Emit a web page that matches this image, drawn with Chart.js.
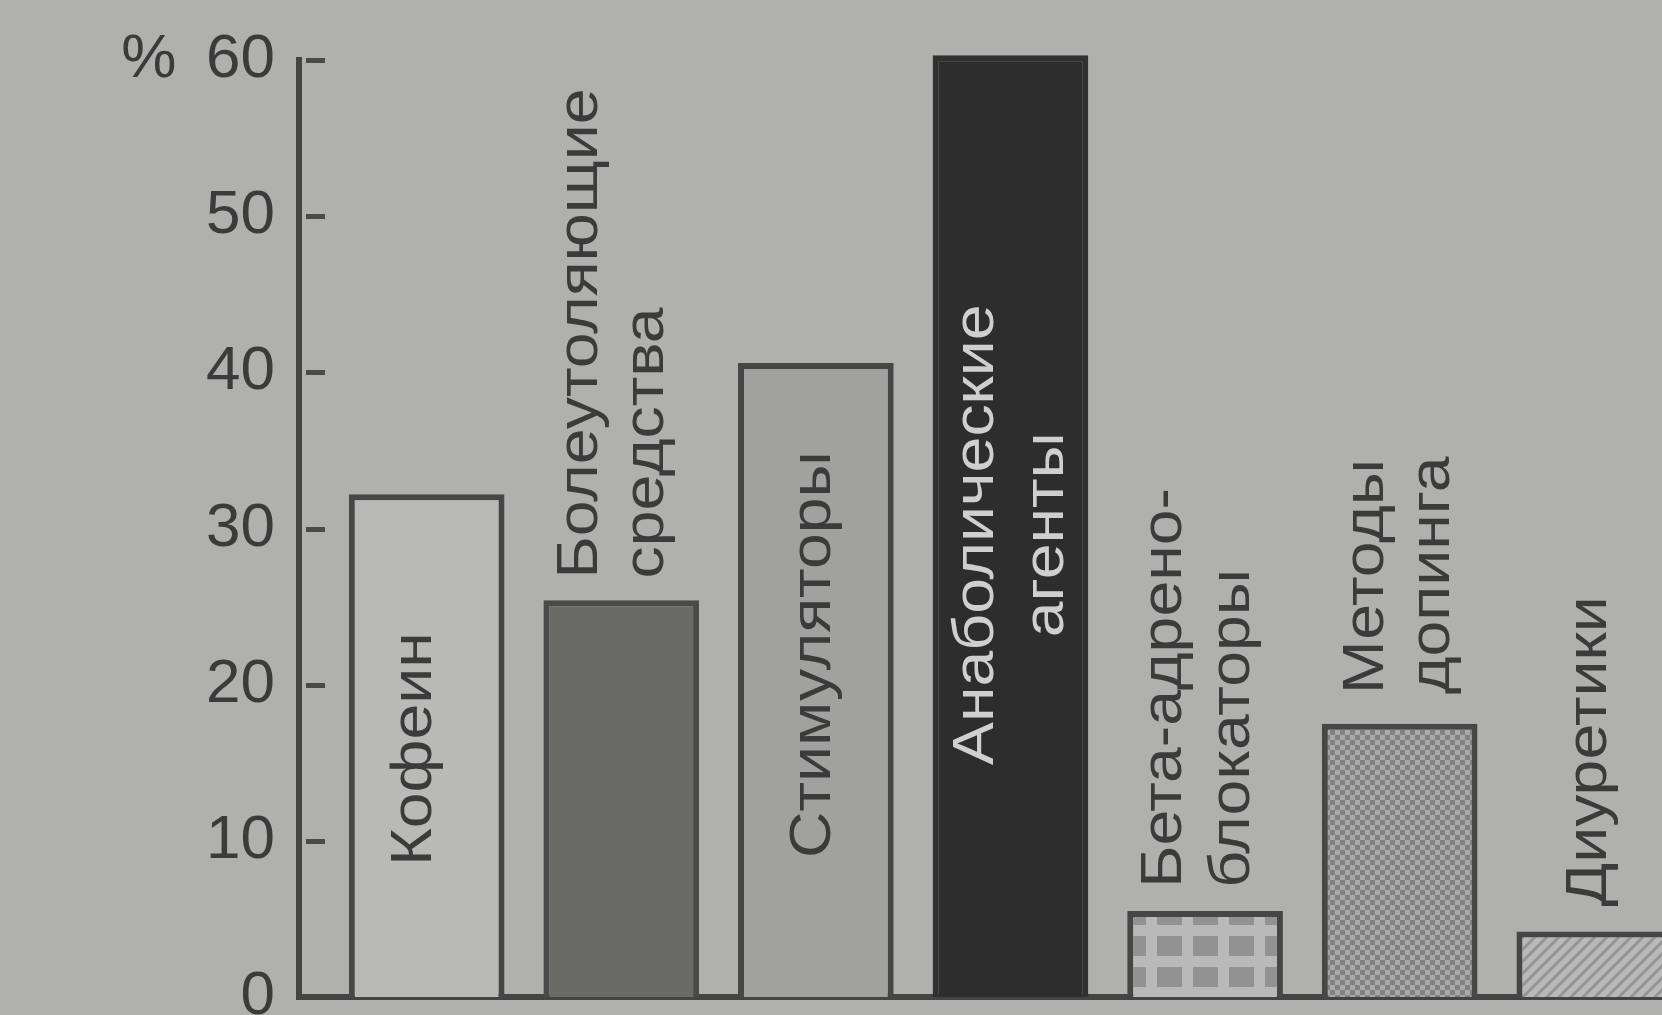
<!DOCTYPE html>
<html>
<head>
<meta charset="utf-8">
<script src="https://cdn.jsdelivr.net/npm/chart.js@4.4.1/dist/chart.umd.min.js"></script>
<style>
  html, body { margin: 0; padding: 0; overflow: hidden; background: #b0b0ae; }
  #wrap { position: relative; width: 1662px; height: 1015px; }
  canvas { display: block; }
</style>
</head>
<body>
<div id="wrap"><canvas id="c" width="1662" height="1015"></canvas></div>
<script>
// ---- data ----
const categories = ['Кофеин', 'Болеутоляющие средства', 'Стимуляторы', 'Анаболические агенты', 'Бета-адрено- блокаторы', 'Методы допинга', 'Диуретики'];
const categoryLines = [
  ['Кофеин'],
  ['Болеутоляющие', 'средства'],
  ['Стимуляторы'],
  ['Анаболические', 'агенты'],
  ['Бета-адрено-', 'блокаторы'],
  ['Методы', 'допинга'],
  ['Диуретики']
];
const values = [32.2, 25.4, 40.6, 60.3, 5.5, 17.5, 4.2];
const yTicks = [0, 10, 20, 30, 40, 50, 60];
const yUnit = '%';

// ---- styles ----
const FONT = '"Liberation Sans", Arial, sans-serif';
const ink = '#3b3b3b';
const edge = '#464646';

function makePattern(w, h, draw) {
  const t = document.createElement('canvas');
  t.width = w; t.height = h;
  const g = t.getContext('2d');
  draw(g, w, h);
  return document.getElementById('c').getContext('2d').createPattern(t, 'repeat');
}
const brick = makePattern(36, 31, (g, w, h) => {
  g.fillStyle = '#b9b9b9'; g.fillRect(0, 0, w, h);
  g.fillStyle = '#929292'; g.fillRect(5, 6, 25, 20);
});
const checker = makePattern(10, 10, (g, w, h) => {
  g.fillStyle = '#a9a9a9'; g.fillRect(0, 0, w, h);
  g.fillStyle = '#828282'; g.fillRect(0, 0, 5, 5); g.fillRect(5, 5, 5, 5);
});
const hatch = makePattern(12, 12, (g, w, h) => {
  g.fillStyle = '#b9b9b9'; g.fillRect(0, 0, w, h);
  g.strokeStyle = '#959595'; g.lineWidth = 3;
  g.beginPath();
  g.moveTo(-3, 15); g.lineTo(15, -3);
  g.moveTo(-9, 9); g.lineTo(9, -9);
  g.moveTo(3, 21); g.lineTo(21, 3);
  g.stroke();
});

const fills = ['#b9b9b7', '#6a6a66', '#a1a1a0', '#2d2d2d', brick, checker, hatch];
const borders = [edge, '#4a4a4a', edge, '#303030', edge, edge, edge];

// label layout: start (value along y where text begins), dx (px from bar centre), gap between lines, align
const labelLayout = [
  { start: 8.4, dx: -12, gap: 0, align: 'left', color: ink },
  { start: 26.8, dx: -7, gap: 66, align: 'left', color: ink },
  { start: 8.9, dx: -2, gap: 0, align: 'left', color: ink },
  { start: 29.6, dx: 2, gap: 70, align: 'center', color: '#cfcfcf' },
  { start: 7.0, dx: -6, gap: 68, align: 'left', color: ink },
  { start: 19.4, dx: 0, gap: 66, align: 'left', color: ink },
  { start: 5.8, dx: -4, gap: 0, align: 'left', color: ink }
];
const TEXT_STRETCH = 1.11;

const labelPlugin = {
  id: 'barLabels',
  afterDatasetsDraw(chart) {
    const ctx = chart.ctx, xs = chart.scales.x, ys = chart.scales.y;
    ctx.save();
    ctx.font = '58px ' + FONT;
    ctx.textBaseline = 'middle';
    categoryLines.forEach((lines, i) => {
      const L = labelLayout[i];
      const cx = xs.getPixelForValue(i) + L.dx;
      const y = ys.getPixelForValue(L.start);
      lines.forEach((line, k) => {
        const x = cx + (k - (lines.length - 1) / 2) * L.gap;
        ctx.save();
        ctx.translate(x, y);
        ctx.rotate(-Math.PI / 2);
        ctx.scale(TEXT_STRETCH, 1);
        ctx.textAlign = L.align;
        ctx.fillStyle = L.color;
        ctx.fillText(line, 0, 0);
        ctx.restore();
      });
    });
    ctx.restore();
  },
  afterDraw(chart) {
    const ctx = chart.ctx, ys = chart.scales.y, left = chart.chartArea.left;
    ctx.save();
    ctx.strokeStyle = '#4a4a4a';
    ctx.lineWidth = 5;
    yTicks.forEach(v => {
      if (v === 0) return;
      const y = Math.round(ys.getPixelForValue(v)) + 0.5;
      ctx.beginPath();
      ctx.moveTo(left + 7, y);
      ctx.lineTo(left + 26, y);
      ctx.stroke();
    });
    ctx.restore();
  }
};

new Chart(document.getElementById('c'), {
  type: 'bar',
  data: {
    labels: categories,
    datasets: [{
      data: values.map((v, i) => ({ x: i, y: v })),
      backgroundColor: fills,
      borderColor: borders,
      borderWidth: 6,
      borderSkipped: 'start',
      barPercentage: 0.8,
      categoryPercentage: 1,
      clip: false
    }]
  },
  options: {
    responsive: false,
    animation: false,
    devicePixelRatio: 1,
    layout: { padding: { top: 60, bottom: 18, left: 0, right: 0 } },
    plugins: { legend: { display: false }, tooltip: { enabled: false } },
    scales: {
      x: {
        type: 'linear',
        offset: false,
        min: -0.656,
        max: 6.348,
        afterBuildTicks(s) { s.ticks = categories.map((c, i) => ({ value: i })); },
        grid: { display: false, drawTicks: false, offset: false },
        ticks: { display: false },
        border: { display: true, width: 6, color: '#444' },
        afterFit(s) { s.height = 0; s.paddingLeft = 0; s.paddingRight = 0; }
      },
      y: {
        min: 0,
        max: 60,
        afterBuildTicks(s) { s.ticks = yTicks.map(v => ({ value: v })); },
        grid: { display: false, drawTicks: false },
        border: { display: true, width: 6, color: '#444' },
        ticks: {
          autoSkip: false,
          padding: 24,
          color: ink,
          font: { family: FONT, size: 62 },
          callback: v => (v === 60 ? yUnit + ' \u2009' + v : String(v))
        },
        afterFit(s) { s.width = 299; s.paddingTop = 0; s.paddingBottom = 0; }
      }
    }
  },
  plugins: [labelPlugin]
});
</script>
</body>
</html>
